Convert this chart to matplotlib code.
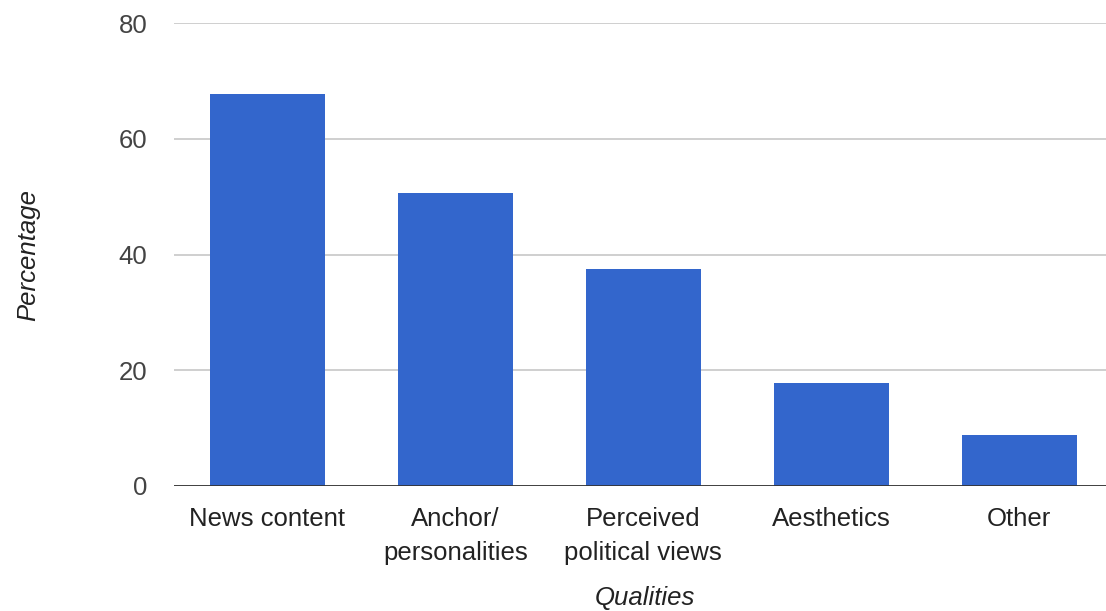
import numpy as np
import matplotlib.pyplot as plt

# data
categories = ["News content", "Anchor/\npersonalities", "Perceived\npolitical views",
              "Aesthetics", "Other"]
percentages = [67.8, 50.7, 37.6, 17.8, 8.9]
y_ticks = [0, 20, 40, 60, 80]

plt.rcParams['font.family'] = ['Liberation Sans', 'DejaVu Sans']

fig = plt.figure(figsize=(11.06, 6.11), dpi=100)
ax = fig.add_axes([0.1569, 0.2046, 0.8495, 0.7573])

x = np.arange(len(categories))
ax.bar(x, percentages, width=0.613, color='#3366cc', zorder=3)

ax.set_xlim(-0.5, len(categories) - 0.5)
ax.set_ylim(0, 80)
ax.set_yticks(y_ticks)
ax.set_xticks(x)
ax.set_xticklabels(categories, linespacing=1.52)

ax.grid(axis='y', color='#cccccc', linewidth=1.3, zorder=0)
ax.axhline(0, color='#333333', linewidth=2, zorder=4)
for s in ax.spines.values():
    s.set_visible(False)

ax.tick_params(axis='both', length=0, labelsize=18.5, labelcolor='#444444')
ax.tick_params(axis='y', pad=19)
ax.tick_params(axis='x', pad=15)
for lab in ax.get_xticklabels():
    lab.set_color('#222222')

fig.text(0.583, 0.0213, "Qualities", style='italic', fontsize=18.5,
         color='#222222', ha='center', va='center')
fig.text(0.0253, 0.5827, "Percentage", style='italic', fontsize=18.5,
         color='#222222', ha='center', va='center', rotation=90)

fig.savefig("out.png", dpi=100)
